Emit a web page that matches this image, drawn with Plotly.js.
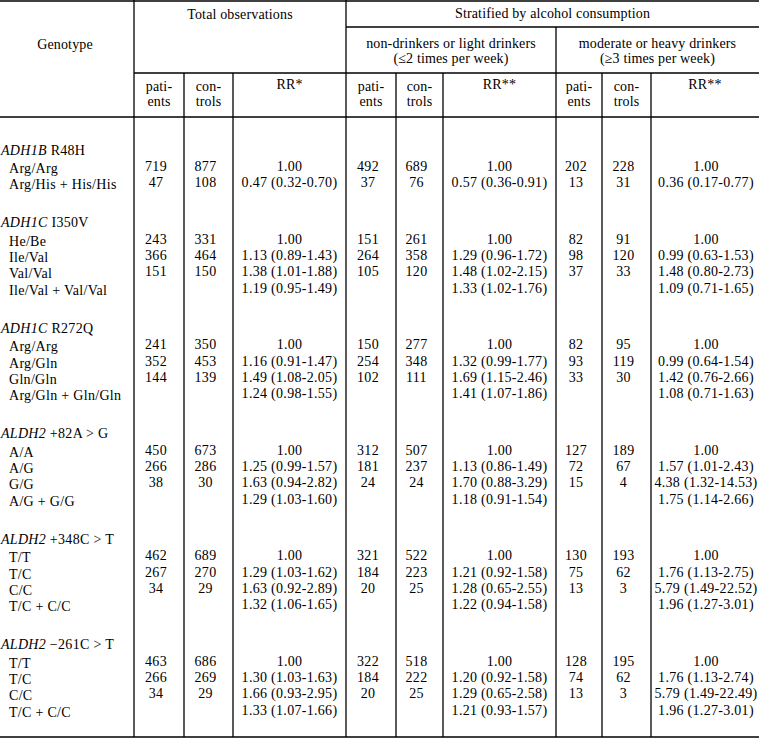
<!DOCTYPE html>
<html>
<head>
<meta charset="utf-8">
<script src="https://cdn.plot.ly/plotly-3.0.1.min.js"></script>
<style>html,body{margin:0;padding:0;background:#fff;}#chart{width:759px;height:739px;}</style>
</head>
<body>
<div id="chart"></div>
<script>
// ---------------- DATA ----------------
const groupTitles = ['<i>ADH1B</i> R48H', '<i>ADH1C</i> I350V', '<i>ADH1C</i> R272Q',
  '<i>ALDH2</i> +82A > G', '<i>ALDH2</i> +348C > T', '<i>ALDH2</i> −261C > T'];
const genotypeLabels = [
  'Arg/Arg', 'Arg/His + His/His',
  'He/Be', 'Ile/Val', 'Val/Val', 'Ile/Val + Val/Val',
  'Arg/Arg', 'Arg/Gln', 'Gln/Gln', 'Arg/Gln + Gln/Gln',
  'A/A', 'A/G', 'G/G', 'A/G + G/G',
  'T/T', 'T/C', 'C/C', 'T/C + C/C',
  'T/T', 'T/C', 'C/C', 'T/C + C/C'];
const genotypeGroup = [0,0, 1,1,1,1, 2,2,2,2, 3,3,3,3, 4,4,4,4, 5,5,5,5];

const totalPatients = [719,47, 243,366,151,null, 241,352,144,null, 450,266,38,null, 462,267,34,null, 463,266,34,null];
const totalControls = [877,108, 331,464,150,null, 350,453,139,null, 673,286,30,null, 689,270,29,null, 686,269,29,null];
const totalRR = ['1.00','0.47 (0.32-0.70)',
  '1.00','1.13 (0.89-1.43)','1.38 (1.01-1.88)','1.19 (0.95-1.49)',
  '1.00','1.16 (0.91-1.47)','1.49 (1.08-2.05)','1.24 (0.98-1.55)',
  '1.00','1.25 (0.99-1.57)','1.63 (0.94-2.82)','1.29 (1.03-1.60)',
  '1.00','1.29 (1.03-1.62)','1.63 (0.92-2.89)','1.32 (1.06-1.65)',
  '1.00','1.30 (1.03-1.63)','1.66 (0.93-2.95)','1.33 (1.07-1.66)'];

const lightPatients = [492,37, 151,264,105,null, 150,254,102,null, 312,181,24,null, 321,184,20,null, 322,184,20,null];
const lightControls = [689,76, 261,358,120,null, 277,348,111,null, 507,237,24,null, 522,223,25,null, 518,222,25,null];
const lightRR = ['1.00','0.57 (0.36-0.91)',
  '1.00','1.29 (0.96-1.72)','1.48 (1.02-2.15)','1.33 (1.02-1.76)',
  '1.00','1.32 (0.99-1.77)','1.69 (1.15-2.46)','1.41 (1.07-1.86)',
  '1.00','1.13 (0.86-1.49)','1.70 (0.88-3.29)','1.18 (0.91-1.54)',
  '1.00','1.21 (0.92-1.58)','1.28 (0.65-2.55)','1.22 (0.94-1.58)',
  '1.00','1.20 (0.92-1.58)','1.29 (0.65-2.58)','1.21 (0.93-1.57)'];

const heavyPatients = [202,13, 82,98,37,null, 82,93,33,null, 127,72,15,null, 130,75,13,null, 128,74,13,null];
const heavyControls = [228,31, 91,120,33,null, 95,119,30,null, 189,67,4,null, 193,62,3,null, 195,62,3,null];
const heavyRR = ['1.00','0.36 (0.17-0.77)',
  '1.00','0.99 (0.63-1.53)','1.48 (0.80-2.73)','1.09 (0.71-1.65)',
  '1.00','0.99 (0.64-1.54)','1.42 (0.76-2.66)','1.08 (0.71-1.63)',
  '1.00','1.57 (1.01-2.43)','4.38 (1.32-14.53)','1.75 (1.14-2.66)',
  '1.00','1.76 (1.13-2.75)','5.79 (1.49-22.52)','1.96 (1.27-3.01)',
  '1.00','1.76 (1.13-2.74)','5.79 (1.49-22.49)','1.96 (1.27-3.01)'];

const headerGenotype = 'Genotype';
const headerTotal = 'Total observations';
const headerStratified = 'Stratified by alcohol consumption';
const headerLight = ['non-drinkers or light drinkers', '(≤2 times per week)'];
const headerHeavy = ['moderate or heavy drinkers', '(≥3 times per week)'];
const headerPatients = ['pati-', 'ents'];
const headerControls = ['con-', 'trols'];
const headerRRTotal = 'RR*';
const headerRRStrat = 'RR**';

// ---------------- LAYOUT (geometry) ----------------
const W = 759, H = 739;
const colEdges = [0, 134, 184, 233, 346, 396, 443, 556, 602, 651, 759];
const numOffset = -3;
const firstRowY = 151, rowStep = 16.3, groupGap = 24, bottomY = 737;
const FONT = {family: '"Liberation Serif", "Times New Roman", serif', size: 14, color: '#000'};
const HEADER_SPACING = '0.15px', BODY_SPACING = '0.3px';

function colCenter(i) { return (colEdges[i] + colEdges[i + 1]) / 2; }

// compute y of each group title and each genotype row
const groupY = [], rowY = [];
let line = 0;
for (let g = 0; g < groupTitles.length; g++) {
  groupY.push(firstRowY + line * rowStep + g * groupGap);
  line++;
  for (let r = 0; r < genotypeLabels.length; r++) {
    if (genotypeGroup[r] === g) {
      rowY.push(firstRowY + line * rowStep + g * groupGap);
      line++;
    }
  }
}

const traces = [];
function textTrace(xs, ys, texts, pos) {
  traces.push({type: 'scatter', mode: 'text', x: xs, y: ys, text: texts,
    textposition: pos || 'middle center', textfont: FONT, hoverinfo: 'skip',
    showlegend: false, cliponaxis: false});
}

// header text
textTrace([colCenter(0) - 2], [45], [headerGenotype]);
textTrace([(colEdges[1] + colEdges[4]) / 2], [15], [headerTotal]);
textTrace([(colEdges[4] + colEdges[10]) / 2], [14], [headerStratified]);
textTrace([(colEdges[4] + colEdges[7]) / 2, (colEdges[4] + colEdges[7]) / 2], [44, 59], headerLight);
textTrace([(colEdges[7] + colEdges[10]) / 2, (colEdges[7] + colEdges[10]) / 2], [44, 59], headerHeavy);
[1, 4, 7].forEach(c => {
  textTrace([colCenter(c), colCenter(c)], [87, 102], headerPatients);
  textTrace([colCenter(c + 1), colCenter(c + 1)], [87, 102], headerControls);
  textTrace([colCenter(c + 2)], [85], [c === 1 ? headerRRTotal : headerRRStrat]);
});
const nHeaderTraces = traces.length;

// group titles and genotype labels
textTrace(groupY.map(() => 1), groupY, groupTitles, 'middle right');
textTrace(rowY.map(() => 9), rowY.map(y => y + 2), genotypeLabels, 'middle right');

// numeric columns
const cols = [totalPatients, totalControls, totalRR, lightPatients, lightControls, lightRR,
              heavyPatients, heavyControls, heavyRR];
cols.forEach((arr, k) => {
  const c = k + 1;
  const isRR = (k % 3 === 2);
  const xs = [], ys = [], ts = [];
  arr.forEach((v, r) => {
    if (v === null || v === undefined) return;
    xs.push(colCenter(c) + (isRR ? (c === 9 ? 1 : 0) : numOffset));
    ys.push(rowY[r]);
    ts.push(String(v));
  });
  textTrace(xs, ys, ts);
});

// rule lines
const shapes = [];
function hline(y, x0, x1) { shapes.push({type: 'line', xref: 'x', yref: 'y', x0: x0, x1: x1, y0: y, y1: y, line: {color: '#000', width: 1.3}}); }
function vline(x, y0, y1) { shapes.push({type: 'line', xref: 'x', yref: 'y', x0: x, x1: x, y0: y0, y1: y1, line: {color: '#000', width: 1.3}}); }
hline(1, 0, W);
hline(27, colEdges[4], W);
hline(73, colEdges[1], W);
hline(117, 0, W);
hline(bottomY, 0, W);
vline(colEdges[1], 0, bottomY);
vline(colEdges[4], 0, bottomY);
vline(colEdges[7], 27, bottomY);
[2, 3, 5, 6, 8, 9].forEach(i => vline(colEdges[i], 73, bottomY));

const layout = {
  width: W, height: H,
  margin: {l: 0, r: 0, t: 0, b: 0, pad: 0},
  paper_bgcolor: '#fff', plot_bgcolor: '#fff',
  xaxis: {range: [0, W], visible: false, fixedrange: true},
  yaxis: {range: [H, 0], visible: false, fixedrange: true},
  shapes: shapes,
  showlegend: false
};
Plotly.newPlot('chart', traces, layout, {staticPlot: true, displayModeBar: false}).then(gd => {
  const groups = gd.querySelectorAll('.scatterlayer .trace');
  groups.forEach((g, i) => {
    const sp = i < nHeaderTraces ? HEADER_SPACING : BODY_SPACING;
    g.querySelectorAll('text').forEach(t => { t.style.letterSpacing = sp; });
  });
});
</script>
</body>
</html>
